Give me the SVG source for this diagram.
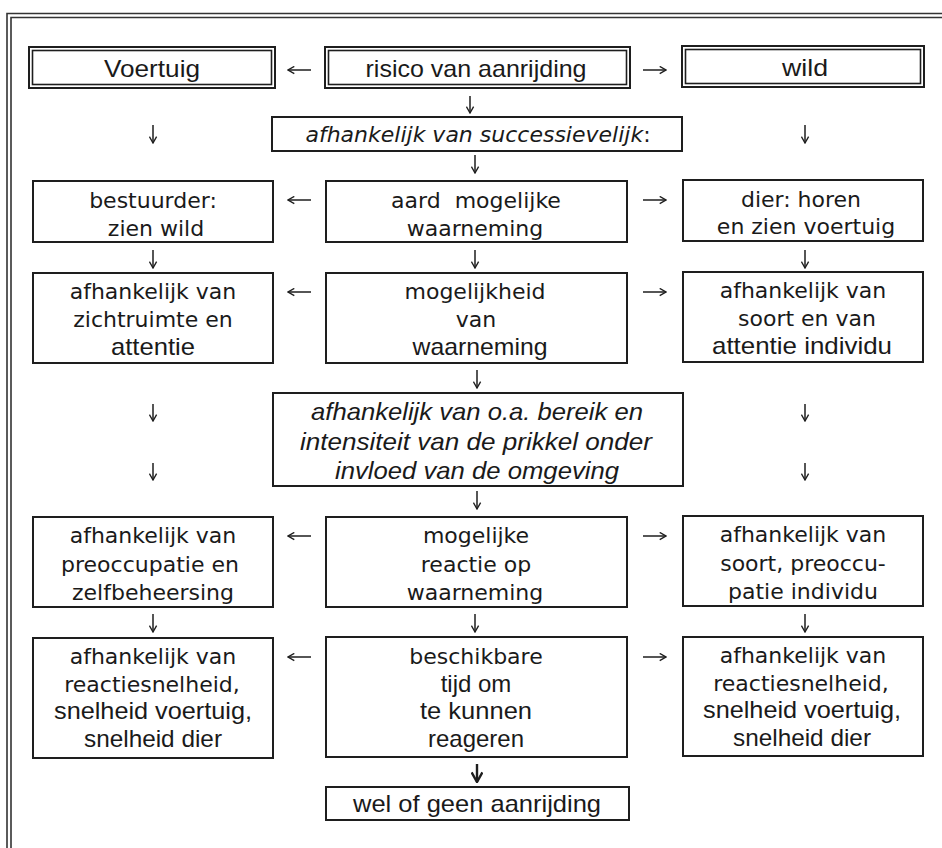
<svg xmlns="http://www.w3.org/2000/svg" width="942" height="848" viewBox="0 0 942 848">
<style>
.bg{fill:#fff}
.frame{fill:none;stroke:#333;stroke-width:1.6}
.box{fill:#fff;stroke:#1e1e1e;stroke-width:2}
.in{fill:none;stroke:#1e1e1e;stroke-width:1.6}
.w{font-family:"DejaVu Sans",Verdana,sans-serif;font-size:22px;fill:#1a1a1a;text-anchor:middle}
.n{font-family:"Liberation Sans",Arial,sans-serif;font-size:24px;fill:#1a1a1a;text-anchor:middle}
.it{font-style:italic}
.arr{fill:none;stroke:#1e1e1e;stroke-width:1.5;marker-end:url(#ah)}
.arrb{fill:none;stroke:#1e1e1e;stroke-width:2.4;marker-end:url(#ahb)}
</style>
<defs>
<marker id="ah" viewBox="0 0 10 10" refX="9" refY="5" markerWidth="9" markerHeight="9" markerUnits="userSpaceOnUse" orient="auto">
<path d="M2,1 L9,5 L2,9" fill="none" stroke="#1e1e1e" stroke-width="1.5"/>
</marker>
<marker id="ahb" viewBox="0 0 10 10" refX="9" refY="5" markerWidth="12" markerHeight="12" markerUnits="userSpaceOnUse" orient="auto">
<path d="M1,0.5 L9,5 L1,9.5" fill="none" stroke="#1e1e1e" stroke-width="2"/>
</marker>
</defs>
<rect class="bg" x="0" y="0" width="942" height="848"/>
<g id="frame">
<path class="frame" d="M7,848 V13.5 H942"/>
<path class="frame" d="M11,848 V17.5 H942"/>
</g>

<g id="voertuig">
<rect class="box" x="29" y="47" width="246" height="41"/>
<rect class="in" x="32.5" y="50.5" width="239" height="34"/>
<text class="n" x="152" y="77" textLength="96" lengthAdjust="spacingAndGlyphs">Voertuig</text>
</g>
<g id="risico">
<rect class="box" x="325" y="47" width="305" height="41"/>
<rect class="in" x="328.5" y="50.5" width="298" height="34"/>
<text class="n" x="476" y="77" textLength="221" lengthAdjust="spacingAndGlyphs">risico van aanrijding</text>
</g>
<g id="wild">
<rect class="box" x="682" y="46" width="242" height="41"/>
<rect class="in" x="685.5" y="49.5" width="235" height="34"/>
<text class="n" x="805" y="76" textLength="46" lengthAdjust="spacingAndGlyphs">wild</text>
</g>

<g id="successievelijk">
<rect class="box" x="272" y="117" width="410" height="34"/>
<text class="w" x="478" y="142"><tspan class="it">afhankelijk van successievelijk</tspan>:</text>
</g>

<g id="bestuurder">
<rect class="box" x="33" y="181" width="240" height="61"/>
<text class="w" x="153" y="208">bestuurder:</text>
<text class="w" x="156" y="236">zien wild</text>
</g>
<g id="aard">
<rect class="box" x="326" y="181" width="301" height="61"/>
<text class="w" x="476" y="208">aard&#160; mogelijke</text>
<text class="w" x="475" y="236">waarneming</text>
</g>
<g id="dier">
<rect class="box" x="683" y="180" width="240" height="61"/>
<text class="w" x="801" y="207">dier: horen</text>
<text class="w" x="806" y="234">en zien voertuig</text>
</g>

<g id="zichtruimte">
<rect class="box" x="33" y="273" width="240" height="90"/>
<text class="w" x="153" y="299">afhankelijk van</text>
<text class="w" x="153" y="327">zichtruimte en</text>
<text class="n" x="153" y="355" textLength="84" lengthAdjust="spacingAndGlyphs">attentie</text>
</g>
<g id="mogelijkheid">
<rect class="box" x="326" y="273" width="301" height="90"/>
<text class="w" x="475" y="299">mogelijkheid</text>
<text class="w" x="476" y="327">van</text>
<text class="n" x="480" y="355" textLength="135" lengthAdjust="spacingAndGlyphs">waarneming</text>
</g>
<g id="soort-attentie">
<rect class="box" x="683" y="272" width="240" height="90"/>
<text class="w" x="803" y="298">afhankelijk van</text>
<text class="w" x="807" y="326">soort en van</text>
<text class="n" x="802" y="354" textLength="180" lengthAdjust="spacingAndGlyphs">attentie individu</text>
</g>

<g id="bereik">
<rect class="box" x="273" y="393" width="410" height="93"/>
<text class="n it" x="477" y="420" textLength="332" lengthAdjust="spacingAndGlyphs">afhankelijk van o.a. bereik en</text>
<text class="n it" x="476" y="450" textLength="352" lengthAdjust="spacingAndGlyphs">intensiteit van de prikkel onder</text>
<text class="n it" x="477" y="479" textLength="284" lengthAdjust="spacingAndGlyphs">invloed van de omgeving</text>
</g>

<g id="preoccupatie">
<rect class="box" x="33" y="517" width="240" height="90"/>
<text class="w" x="153" y="543">afhankelijk van</text>
<text class="w" x="150" y="572">preoccupatie en</text>
<text class="w" x="153" y="600">zelfbeheersing</text>
</g>
<g id="reactie">
<rect class="box" x="326" y="517" width="301" height="90"/>
<text class="w" x="476" y="543">mogelijke</text>
<text class="w" x="476" y="572">reactie op</text>
<text class="w" x="475" y="600">waarneming</text>
</g>
<g id="soort-preoccupatie">
<rect class="box" x="683" y="516" width="240" height="90"/>
<text class="w" x="803" y="542">afhankelijk van</text>
<text class="w" x="803" y="571">soort, preoccu-</text>
<text class="w" x="803" y="599">patie individu</text>
</g>

<g id="reactiesnelheid-links">
<rect class="box" x="33" y="638" width="240" height="120"/>
<text class="w" x="153" y="664">afhankelijk van</text>
<text class="w" x="152" y="692">reactiesnelheid,</text>
<text class="n" x="153" y="719" textLength="198" lengthAdjust="spacingAndGlyphs">snelheid voertuig,</text>
<text class="n" x="153" y="747" textLength="138" lengthAdjust="spacingAndGlyphs">snelheid dier</text>
</g>
<g id="tijd">
<rect class="box" x="326" y="637" width="301" height="120"/>
<text class="w" x="476" y="664">beschikbare</text>
<text class="n" x="476" y="692">tijd om</text>
<text class="n" x="476" y="719" textLength="112" lengthAdjust="spacingAndGlyphs">te kunnen</text>
<text class="n" x="476" y="747" textLength="96" lengthAdjust="spacingAndGlyphs">reageren</text>
</g>
<g id="reactiesnelheid-rechts">
<rect class="box" x="683" y="637" width="240" height="119"/>
<text class="w" x="803" y="663">afhankelijk van</text>
<text class="w" x="801" y="691">reactiesnelheid,</text>
<text class="n" x="802" y="718" textLength="198" lengthAdjust="spacingAndGlyphs">snelheid voertuig,</text>
<text class="n" x="802" y="746" textLength="138" lengthAdjust="spacingAndGlyphs">snelheid dier</text>
</g>

<g id="aanrijding">
<rect class="box" x="326" y="787" width="303" height="33"/>
<text class="n" x="477" y="812" textLength="248" lengthAdjust="spacingAndGlyphs">wel of geen aanrijding</text>
</g>

<g id="connectors">
<path class="arr" d="M311,70 H288"/>
<path class="arr" d="M643,70 H666"/>
<path class="arr" d="M470,96 V113"/>
<path class="arr" d="M153,125 V143"/>
<path class="arr" d="M805,125 V143"/>
<path class="arr" d="M475,155 V173"/>
<path class="arr" d="M311,200 H288"/>
<path class="arr" d="M643,200 H666"/>
<path class="arr" d="M153,250 V268"/>
<path class="arr" d="M475,250 V268"/>
<path class="arr" d="M805,250 V268"/>
<path class="arr" d="M311,292 H288"/>
<path class="arr" d="M643,292 H666"/>
<path class="arr" d="M477,370 V388"/>
<path class="arr" d="M153,404 V421"/>
<path class="arr" d="M805,404 V421"/>
<path class="arr" d="M153,463 V480"/>
<path class="arr" d="M805,463 V480"/>
<path class="arr" d="M477,491 V509"/>
<path class="arr" d="M311,536 H288"/>
<path class="arr" d="M643,536 H666"/>
<path class="arr" d="M153,614 V632"/>
<path class="arr" d="M475,614 V632"/>
<path class="arr" d="M805,614 V632"/>
<path class="arr" d="M311,657 H288"/>
<path class="arr" d="M643,657 H666"/>
<path class="arrb" d="M477,764 V782"/>
</g>
</svg>
